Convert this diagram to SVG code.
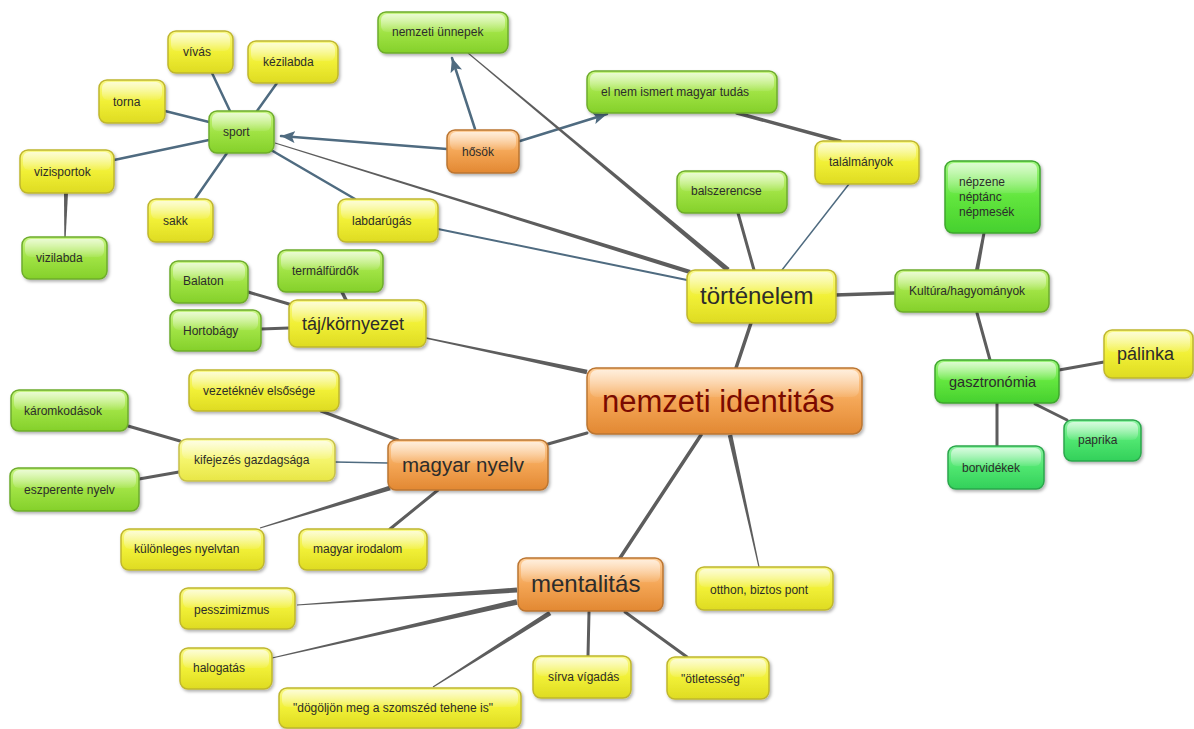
<svg xmlns="http://www.w3.org/2000/svg" width="1194" height="729" viewBox="0 0 1194 729">
<defs>
<linearGradient id="gY" x1="0" y1="0" x2="0" y2="1"><stop offset="0" stop-color="#f9f98a"/><stop offset="0.5" stop-color="#f1f036"/><stop offset="1" stop-color="#dedb22"/></linearGradient>
<linearGradient id="gYL" x1="0" y1="0" x2="0" y2="1"><stop offset="0" stop-color="#fbfbac"/><stop offset="0.5" stop-color="#f5f56c"/><stop offset="1" stop-color="#e8e646"/></linearGradient>
<linearGradient id="gG" x1="0" y1="0" x2="0" y2="1"><stop offset="0" stop-color="#c8f584"/><stop offset="0.5" stop-color="#a0e344"/><stop offset="1" stop-color="#84d02a"/></linearGradient>
<linearGradient id="gBG" x1="0" y1="0" x2="0" y2="1"><stop offset="0" stop-color="#a0f67e"/><stop offset="0.5" stop-color="#62e63e"/><stop offset="1" stop-color="#46d02e"/></linearGradient>
<linearGradient id="gE" x1="0" y1="0" x2="0" y2="1"><stop offset="0" stop-color="#90f4a4"/><stop offset="0.5" stop-color="#50e670"/><stop offset="1" stop-color="#32d05a"/></linearGradient>
<linearGradient id="gO" x1="0" y1="0" x2="0" y2="1"><stop offset="0" stop-color="#ffd09c"/><stop offset="0.5" stop-color="#f4a656"/><stop offset="1" stop-color="#e28832"/></linearGradient>
<linearGradient id="gloss" x1="0" y1="0" x2="0" y2="1"><stop offset="0" stop-color="#fff" stop-opacity="0.65"/><stop offset="1" stop-color="#fff" stop-opacity="0.08"/></linearGradient>
<filter id="sh" x="-10%" y="-15%" width="125%" height="145%"><feDropShadow dx="1.5" dy="2" stdDeviation="1.5" flood-color="#000" flood-opacity="0.3"/></filter>
<marker id="arr" markerUnits="userSpaceOnUse" markerWidth="16" markerHeight="12" refX="14" refY="6" orient="auto"><path d="M0,0 L14,6 L0,12 L3,6 Z" fill="#4f6b80"/></marker>
<style>
.node rect.b{stroke-width:1.5;filter:url(#sh)}
.node rect.g{fill:url(#gloss)}
.Y rect.b{fill:url(#gY);stroke:#bfb62e}
.YL rect.b{fill:url(#gYL);stroke:#c6c04a}
.G rect.b{fill:url(#gG);stroke:#6eac2c}
.BG rect.b{fill:url(#gBG);stroke:#3fa62e}
.E rect.b{fill:url(#gE);stroke:#2ba64c}
.O rect.b{fill:url(#gO);stroke:#bb7530}
text{font-family:"Liberation Sans",Arial,sans-serif;font-size:12px;fill:#2c2c2c}
.c{stroke:#5d5d5d;stroke-width:3;stroke-linecap:round;fill:none}
.s{stroke:#4f6b80;stroke-width:2.5}
.tp{fill:#5d5d5d;stroke:none}
</style>
</defs>
<rect width="1194" height="729" fill="#fff"/>
<g id="connectors">
<line class="c s" x1="230" y1="111" x2="212" y2="73"/>
<line class="c s" x1="257" y1="111" x2="277" y2="83"/>
<line class="c s" x1="209" y1="122" x2="165" y2="111"/>
<line class="c s" x1="209" y1="140" x2="114" y2="160"/>
<line class="c s" x1="227" y1="153" x2="195" y2="199"/>
<line class="c s" x1="271" y1="150" x2="355" y2="199"/>
<path class="tp" d="M64,193 L64.3,237 L65.7,237 L68,193 Z"/>
<line class="c s" x1="447" y1="149" x2="281" y2="136" marker-end="url(#arr)"/>
<line class="c s" x1="475" y1="129" x2="452" y2="58" marker-end="url(#arr)"/>
<line class="c s" x1="520" y1="141" x2="607" y2="114" marker-end="url(#arr)"/>
<path class="tp" d="M275.2,142.5 L690.7,269.9 L689.3,274.1 L274.9,143.5 Z"/>
<path class="tp" d="M468.3,52.6 L729.6,268.1 L726.4,271.9 L467.7,53.4 Z"/>
<line class="c s" x1="438" y1="229" x2="687" y2="280" style="stroke-width:2"/>
<line class="c" x1="737" y1="113" x2="840" y2="141" style="stroke-width:3.5"/>
<line class="c s" x1="849" y1="184" x2="782" y2="270" style="stroke-width:1.5"/>
<line class="c" x1="738" y1="213" x2="754" y2="270"/>
<line class="c" x1="751" y1="323" x2="736" y2="368" style="stroke-width:3.5"/>
<line class="c" x1="835" y1="295" x2="895" y2="293" style="stroke-width:3.5"/>
<path class="tp" d="M975,270 L982.5,233 L985.5,233 L979,270 Z"/>
<line class="c" x1="977" y1="313" x2="990" y2="360"/>
<line class="c" x1="1059" y1="370" x2="1104" y2="362"/>
<line class="c" x1="1035" y1="404" x2="1067" y2="420"/>
<line class="c" x1="997" y1="403" x2="997" y2="446"/>
<line class="c" x1="248" y1="292" x2="289" y2="304"/>
<line class="c" x1="342" y1="292" x2="346" y2="300" style="stroke-width:3.5"/>
<line class="c" x1="261" y1="329" x2="289" y2="328"/>
<path class="tp" d="M426.2,337.3 L587.5,369.8 L586.5,374.2 L425.8,338.7 Z"/>
<line class="c" x1="587" y1="433" x2="548" y2="444"/>
<line class="c" x1="321" y1="411" x2="398" y2="440"/>
<line class="c s" x1="335" y1="462" x2="388" y2="463" style="stroke-width:1.5"/>
<line class="c" x1="128" y1="426" x2="180" y2="441"/>
<line class="c" x1="139" y1="479" x2="179" y2="472"/>
<path class="tp" d="M259.8,527.4 L389.3,485.8 L390.7,490.2 L260.2,528.6 Z"/>
<line class="c" x1="390" y1="529" x2="438" y2="490"/>
<line class="c" x1="701" y1="435" x2="620" y2="558" style="stroke-width:3.5"/>
<path class="tp" d="M727.8,435.5 L758.4,567.1 L759.6,566.9 L732.2,434.5 Z"/>
<path class="tp" d="M297,604.4 L516.8,587.5 L517.2,592.5 L297,605.6 Z"/>
<path class="tp" d="M271.9,657.4 L516.4,599.3 L517.6,604.7 L272.1,658.6 Z"/>
<path class="tp" d="M432.7,686.5 L548.7,610.9 L551.3,615.1 L433.3,687.5 Z"/>
<line class="c" x1="589" y1="612" x2="588" y2="656"/>
<line class="c" x1="625" y1="612" x2="687" y2="657"/>
</g>
<g id="n-vivas" class="node Y"><rect class="b" x="168" y="31" width="65" height="42" rx="8"/><rect class="g" x="171" y="33" width="59" height="18" rx="6"/><text x="183" y="56">vívás</text></g>
<g id="n-kezilabda" class="node Y"><rect class="b" x="248" y="41" width="90" height="42" rx="8"/><rect class="g" x="251" y="43" width="84" height="18" rx="6"/><text x="263" y="66">kézilabda</text></g>
<g id="n-torna" class="node Y"><rect class="b" x="99" y="80" width="66" height="43" rx="8"/><rect class="g" x="102" y="82" width="60" height="18" rx="6"/><text x="113" y="106">torna</text></g>
<g id="n-sport" class="node G"><rect class="b" x="209" y="111" width="65" height="42" rx="8"/><rect class="g" x="212" y="113" width="59" height="18" rx="6"/><text x="223" y="136">sport</text></g>
<g id="n-vizisportok" class="node Y"><rect class="b" x="20" y="150" width="94" height="43" rx="8"/><rect class="g" x="23" y="152" width="88" height="18" rx="6"/><text x="34" y="176">vizisportok</text></g>
<g id="n-sakk" class="node Y"><rect class="b" x="148" y="199" width="65" height="43" rx="8"/><rect class="g" x="151" y="201" width="59" height="18" rx="6"/><text x="163" y="225">sakk</text></g>
<g id="n-labdarugas" class="node Y"><rect class="b" x="338" y="199" width="100" height="43" rx="8"/><rect class="g" x="341" y="201" width="94" height="18" rx="6"/><text x="352" y="225">labdarúgás</text></g>
<g id="n-vizilabda" class="node G"><rect class="b" x="22" y="237" width="85" height="42" rx="8"/><rect class="g" x="25" y="239" width="79" height="18" rx="6"/><text x="36" y="262">vizilabda</text></g>
<g id="n-termalfurdok" class="node G"><rect class="b" x="278" y="250" width="105" height="42" rx="8"/><rect class="g" x="281" y="252" width="99" height="18" rx="6"/><text x="292" y="275">termálfürdők</text></g>
<g id="n-balaton" class="node G"><rect class="b" x="170" y="261" width="78" height="42" rx="8"/><rect class="g" x="173" y="263" width="72" height="18" rx="6"/><text x="183" y="285">Balaton</text></g>
<g id="n-hortobagy" class="node G"><rect class="b" x="170" y="310" width="91" height="41" rx="8"/><rect class="g" x="173" y="312" width="85" height="18" rx="6"/><text x="183" y="335">Hortobágy</text></g>
<g id="n-taj" class="node Y"><rect class="b" x="289" y="300" width="137" height="47" rx="8"/><rect class="g" x="292" y="302" width="131" height="20" rx="6"/><text x="302" y="330" style="font-size:18px">táj/környezet</text></g>
<g id="n-unnepek" class="node G"><rect class="b" x="378" y="12" width="130" height="41" rx="8"/><rect class="g" x="381" y="14" width="124" height="18" rx="6"/><text x="392" y="36">nemzeti ünnepek</text></g>
<g id="n-hosok" class="node O"><rect class="b" x="447" y="130" width="72" height="43" rx="8"/><rect class="g" x="450" y="132" width="66" height="18" rx="6"/><text x="462" y="156">hősök</text></g>
<g id="n-tudas" class="node G"><rect class="b" x="587" y="71" width="190" height="42" rx="8"/><rect class="g" x="590" y="73" width="184" height="18" rx="6"/><text x="601" y="96">el nem ismert magyar tudás</text></g>
<g id="n-talalmanyok" class="node Y"><rect class="b" x="815" y="141" width="104" height="43" rx="8"/><rect class="g" x="818" y="143" width="98" height="18" rx="6"/><text x="829" y="166">találmányok</text></g>
<g id="n-balszerencse" class="node G"><rect class="b" x="677" y="171" width="110" height="42" rx="8"/><rect class="g" x="680" y="173" width="104" height="18" rx="6"/><text x="691" y="195">balszerencse</text></g>
<g id="n-nepzene" class="node BG"><rect class="b" x="945" y="161" width="95" height="72" rx="8"/><rect class="g" x="948" y="163" width="89" height="30" rx="6"/><text x="959" y="186">népzene</text><text x="959" y="201">néptánc</text><text x="959" y="216">népmesék</text></g>
<g id="n-tortenelem" class="node Y"><rect class="b" x="687" y="270" width="149" height="53" rx="8"/><rect class="g" x="690" y="272" width="143" height="22" rx="6"/><text x="700" y="304" style="font-size:24px">történelem</text></g>
<g id="n-kultura" class="node G"><rect class="b" x="895" y="270" width="154" height="42" rx="8"/><rect class="g" x="898" y="272" width="148" height="18" rx="6"/><text x="909" y="295">Kultúra/hagyományok</text></g>
<g id="n-palinka" class="node Y"><rect class="b" x="1104" y="330" width="89" height="48" rx="8"/><rect class="g" x="1107" y="332" width="83" height="20" rx="6"/><text x="1117" y="360" style="font-size:18px">pálinka</text></g>
<g id="n-gasztronomia" class="node BG"><rect class="b" x="935" y="360" width="124" height="43" rx="8"/><rect class="g" x="938" y="362" width="118" height="18" rx="6"/><text x="949" y="387" style="font-size:14.5px">gasztronómia</text></g>
<g id="n-paprika" class="node E"><rect class="b" x="1064" y="420" width="77" height="41" rx="8"/><rect class="g" x="1067" y="422" width="71" height="18" rx="6"/><text x="1078" y="444">paprika</text></g>
<g id="n-borvidekek" class="node E"><rect class="b" x="948" y="446" width="96" height="43" rx="8"/><rect class="g" x="951" y="448" width="90" height="18" rx="6"/><text x="962" y="472">borvidékek</text></g>
<g id="n-identitas" class="node O"><rect class="b" x="587" y="368" width="275" height="66" rx="9"/><rect class="g" x="590" y="370" width="269" height="27" rx="7"/><text x="602" y="412" style="font-size:31px;fill:#7a0a00">nemzeti identitás</text></g>
<g id="n-magyarnyelv" class="node O"><rect class="b" x="388" y="440" width="160" height="50" rx="8"/><rect class="g" x="391" y="442" width="154" height="21" rx="6"/><text x="402" y="472" style="font-size:20.5px">magyar nyelv</text></g>
<g id="n-vezeteknev" class="node Y"><rect class="b" x="189" y="370" width="150" height="41" rx="8"/><rect class="g" x="192" y="372" width="144" height="18" rx="6"/><text x="203" y="395">vezetéknév elsősége</text></g>
<g id="n-karomkodasok" class="node G"><rect class="b" x="11" y="390" width="117" height="41" rx="8"/><rect class="g" x="14" y="392" width="111" height="18" rx="6"/><text x="24" y="415">káromkodások</text></g>
<g id="n-kifejezes" class="node YL"><rect class="b" x="179" y="439" width="156" height="42" rx="8"/><rect class="g" x="182" y="441" width="150" height="18" rx="6"/><text x="194" y="464">kifejezés gazdagsága</text></g>
<g id="n-eszperente" class="node G"><rect class="b" x="10" y="468" width="129" height="43" rx="8"/><rect class="g" x="13" y="470" width="123" height="18" rx="6"/><text x="24" y="494">eszperente nyelv</text></g>
<g id="n-nyelvtan" class="node Y"><rect class="b" x="121" y="529" width="143" height="41" rx="8"/><rect class="g" x="124" y="531" width="137" height="18" rx="6"/><text x="134" y="553">különleges nyelvtan</text></g>
<g id="n-irodalom" class="node Y"><rect class="b" x="299" y="529" width="128" height="41" rx="8"/><rect class="g" x="302" y="531" width="122" height="18" rx="6"/><text x="313" y="553">magyar irodalom</text></g>
<g id="n-mentalitas" class="node O"><rect class="b" x="518" y="558" width="145" height="53" rx="8"/><rect class="g" x="521" y="560" width="139" height="22" rx="6"/><text x="531" y="592" style="font-size:24px">mentalitás</text></g>
<g id="n-otthon" class="node Y"><rect class="b" x="696" y="567" width="137" height="43" rx="8"/><rect class="g" x="699" y="569" width="131" height="18" rx="6"/><text x="710" y="594">otthon, biztos pont</text></g>
<g id="n-pesszimizmus" class="node Y"><rect class="b" x="180" y="588" width="115" height="41" rx="8"/><rect class="g" x="183" y="590" width="109" height="18" rx="6"/><text x="194" y="614">pesszimizmus</text></g>
<g id="n-halogatas" class="node Y"><rect class="b" x="180" y="648" width="92" height="41" rx="8"/><rect class="g" x="183" y="650" width="86" height="18" rx="6"/><text x="193" y="672">halogatás</text></g>
<g id="n-dogoljon" class="node Y"><rect class="b" x="279" y="688" width="242" height="40" rx="8"/><rect class="g" x="282" y="690" width="236" height="17" rx="6"/><text x="293" y="712">"dögöljön meg a szomszéd tehene is"</text></g>
<g id="n-sirva" class="node Y"><rect class="b" x="533" y="656" width="98" height="42" rx="8"/><rect class="g" x="536" y="658" width="92" height="18" rx="6"/><text x="548" y="681">sírva vígadás</text></g>
<g id="n-otletesseg" class="node Y"><rect class="b" x="667" y="657" width="102" height="42" rx="8"/><rect class="g" x="670" y="659" width="96" height="18" rx="6"/><text x="681" y="683">"ötletesség"</text></g>
</svg>
